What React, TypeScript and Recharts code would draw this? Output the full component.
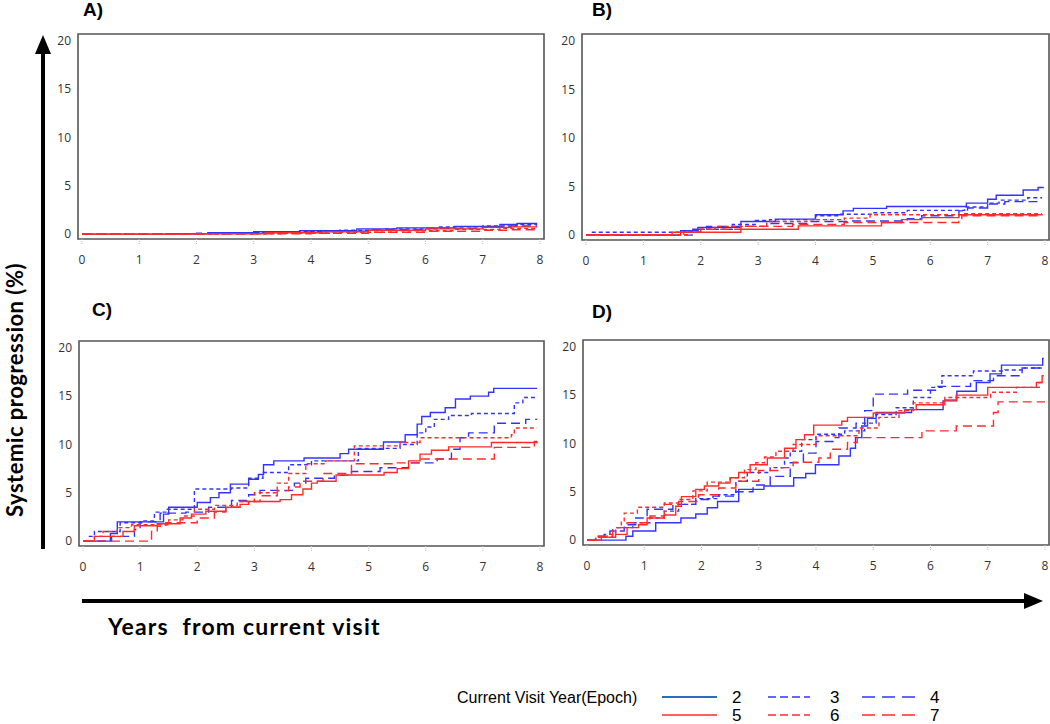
import { LineChart, Line, XAxis, YAxis, ReferenceArea } from 'recharts';

type Pt = [number, number];

const EPOCHS = ['2', '3', '4', '5', '6', '7'];
const X_TICKS = [0, 1, 2, 3, 4, 5, 6, 7, 8];
const Y_TICKS = [0, 5, 10, 15, 20];
const PANEL_LABELS = ['A)', 'B)', 'C)', 'D)'];

// panel A
const A2: Pt[] = [[0, 0], [1.5, 0.05], [2.2, 0.15], [3.0, 0.25], [3.8, 0.35], [4.8, 0.55], [5.5, 0.65], [6.5, 0.8], [7.3, 1.0], [7.6, 1.1], [7.95, 1.1]];
const A3: Pt[] = [[0, 0], [1.3, 0.05], [2.5, 0.15], [3.5, 0.25], [4.5, 0.4], [5.3, 0.55], [6.2, 0.75], [7.0, 0.85], [7.6, 1.0], [7.95, 1.0]];
const A4: Pt[] = [[0, 0], [2.0, 0.1], [3.0, 0.2], [4.0, 0.3], [5.0, 0.45], [6.0, 0.6], [7.0, 0.75], [7.5, 0.85], [7.95, 0.85]];
const A5: Pt[] = [[0, 0], [2.0, 0.05], [3.2, 0.15], [4.2, 0.25], [5.0, 0.4], [6.0, 0.55], [7.0, 0.7], [7.5, 0.75], [7.95, 0.75]];
const A6: Pt[] = [[0, 0], [2.5, 0.05], [3.5, 0.1], [4.5, 0.2], [5.5, 0.35], [6.5, 0.5], [7.3, 0.6], [7.95, 0.6]];
const A7: Pt[] = [[0, 0], [3.0, 0.05], [4.0, 0.1], [5.0, 0.2], [6.0, 0.3], [7.0, 0.4], [7.5, 0.45], [7.95, 0.45]];

// panel B
const B2: Pt[] = [[0, 0], [1.65, 0.45], [1.95, 0.8], [2.7, 1.4], [3.3, 1.65], [4.0, 2.1], [4.48, 2.5], [4.66, 2.75], [5.24, 2.95], [6.63, 3.3], [7.0, 3.7], [7.15, 4.1], [7.62, 4.65], [7.88, 4.9], [7.98, 4.9]];
const B3: Pt[] = [[0.1, 0.3], [1.7, 0.35], [1.95, 0.6], [2.55, 1.1], [2.95, 1.5], [3.2, 1.6], [4.0, 2.0], [4.4, 2.15], [5.0, 2.3], [5.6, 2.55], [6.6, 2.9], [7.0, 3.3], [7.2, 3.6], [7.7, 3.85], [7.95, 3.85]];
const B4: Pt[] = [[0, 0], [1.85, 0.6], [2.1, 0.9], [3.2, 1.2], [3.9, 1.4], [4.55, 1.45], [5.6, 1.7], [5.85, 2.0], [6.5, 2.5], [6.65, 2.8], [7.0, 3.2], [7.3, 3.45], [7.95, 3.5]];
const B5: Pt[] = [[0, 0.05], [1.5, 0.3], [2.7, 0.6], [3.7, 0.95], [5.15, 1.3], [5.5, 1.6], [5.85, 1.8], [6.5, 2.1], [7.95, 2.15]];
const B6: Pt[] = [[0, 0.05], [1.8, 0.3], [1.95, 0.6], [2.25, 0.9], [3.15, 1.4], [3.85, 1.6], [4.5, 1.75], [4.95, 2.1], [6.6, 2.2], [7.95, 2.2]];
const B7: Pt[] = [[0, 0], [1.7, 0.3], [2.0, 0.6], [2.7, 0.9], [3.6, 1.1], [4.5, 1.3], [6.5, 1.4], [6.55, 2.0], [7.95, 2.05]];

// panel C
const C2: Pt[] = [[0, 0], [0.48, 0.8], [0.6, 2.0], [1.41, 2.8], [1.5, 3.5], [2.0, 4.0], [2.23, 4.5], [2.38, 5.0], [2.58, 5.9], [2.9, 6.4], [3.07, 6.9], [3.16, 7.9], [3.34, 8.3], [3.87, 8.6], [4.5, 9.05], [4.65, 9.5], [5.26, 10.25], [5.64, 11.0], [5.85, 12.1], [5.93, 12.9], [6.08, 13.3], [6.34, 13.8], [6.52, 14.7], [6.78, 15.0], [7.1, 15.4], [7.19, 15.8], [7.95, 15.8]];
const C3: Pt[] = [[0.1, 0.5], [0.2, 1.0], [0.55, 1.0], [0.65, 1.9], [1.05, 2.1], [1.25, 3.0], [1.45, 3.3], [1.95, 5.4], [2.6, 5.5], [2.9, 6.5], [3.15, 7.1], [3.6, 7.9], [4.0, 8.3], [4.75, 8.3], [4.82, 9.6], [5.55, 10.0], [5.85, 11.2], [6.0, 11.8], [6.15, 12.6], [6.4, 13.0], [6.8, 13.2], [7.5, 13.2], [7.55, 14.3], [7.7, 14.85], [7.95, 14.85]];
const C4: Pt[] = [[0, 0], [0.5, 0.5], [0.9, 1.2], [1.0, 2.0], [1.35, 2.9], [1.8, 3.0], [2.2, 3.5], [2.6, 4.2], [2.9, 4.8], [3.1, 5.25], [3.5, 5.25], [3.7, 6.0], [3.9, 6.5], [4.4, 6.8], [4.7, 7.2], [5.2, 7.6], [5.7, 8.1], [6.2, 8.5], [6.45, 9.5], [6.6, 10.7], [6.75, 11.2], [7.2, 12.2], [7.75, 12.6], [7.95, 12.6]];
const C5: Pt[] = [[0, 0], [0.2, 0.5], [0.7, 1.0], [0.9, 1.6], [1.3, 1.8], [1.7, 2.4], [1.9, 2.8], [2.15, 3.1], [2.5, 3.5], [2.75, 3.8], [2.9, 4.1], [3.45, 4.3], [3.65, 4.8], [3.85, 5.4], [4.0, 6.0], [4.1, 6.2], [4.43, 6.85], [5.27, 7.1], [5.5, 7.5], [5.7, 8.3], [5.9, 9.0], [6.1, 9.4], [6.4, 9.75], [7.15, 10.2], [7.95, 10.3]];
const C6: Pt[] = [[0, 0], [0.2, 0.5], [0.35, 1.0], [0.6, 1.4], [0.85, 1.7], [1.5, 2.2], [1.75, 2.6], [1.95, 3.3], [2.3, 3.7], [2.7, 4.1], [3.0, 5.0], [3.4, 6.0], [3.6, 7.0], [3.9, 8.0], [4.25, 8.3], [4.75, 9.85], [5.55, 10.2], [5.9, 10.7], [7.5, 11.0], [7.55, 11.7], [7.95, 11.7]];
const C7: Pt[] = [[0, 0], [1.2, 1.0], [1.3, 1.55], [1.45, 1.9], [2.0, 2.4], [2.3, 3.0], [2.5, 3.5], [2.75, 4.1], [3.1, 4.7], [3.4, 5.2], [3.6, 5.6], [3.8, 6.2], [4.2, 7.0], [4.7, 8.0], [5.5, 8.1], [5.9, 8.5], [7.2, 9.7], [7.9, 10.3], [7.95, 10.3]];

// panel D
const D2: Pt[] = [[0, 0], [0.68, 0.4], [0.8, 0.95], [1.2, 1.8], [1.64, 2.3], [1.9, 2.7], [2.1, 3.35], [2.28, 4.0], [2.65, 5.25], [3.09, 5.6], [3.61, 6.45], [3.82, 6.9], [3.99, 7.8], [4.4, 8.7], [4.6, 9.5], [4.69, 10.6], [4.8, 11.8], [4.9, 12.6], [5.05, 13.2], [5.67, 13.5], [6.22, 14.4], [6.46, 15.4], [6.8, 16.3], [7.04, 17.2], [7.24, 18.1], [7.96, 18.8], [7.98, 18.8]];
const D3: Pt[] = [[0, 0], [0.15, 0.3], [0.3, 0.6], [0.5, 1.3], [0.8, 1.8], [1.1, 2.3], [1.35, 3.0], [1.6, 3.7], [1.9, 4.3], [2.3, 4.7], [2.6, 6.1], [2.8, 7.0], [3.2, 7.5], [3.45, 8.5], [3.55, 9.2], [3.75, 10.4], [4.0, 10.95], [4.5, 11.3], [4.85, 12.1], [5.05, 13.0], [5.4, 13.7], [5.7, 14.75], [6.0, 15.8], [6.2, 17.0], [6.75, 17.5], [7.3, 17.6], [7.6, 17.8], [7.98, 17.9]];
const D4: Pt[] = [[0, 0], [0.2, 0.4], [0.4, 0.95], [0.65, 1.6], [0.85, 2.3], [1.05, 3.2], [1.5, 3.7], [1.9, 4.2], [2.2, 4.55], [2.6, 5.0], [2.9, 5.7], [3.2, 6.6], [3.55, 8.0], [3.78, 9.0], [4.0, 10.2], [4.3, 10.6], [4.4, 11.6], [4.7, 12.1], [4.85, 13.4], [5.0, 15.1], [5.6, 15.5], [6.1, 15.9], [6.7, 16.5], [7.1, 17.0], [7.6, 17.8], [7.98, 17.8]];
const D5: Pt[] = [[0, 0], [0.25, 0.3], [0.5, 0.6], [0.7, 1.3], [0.9, 1.6], [1.05, 2.3], [1.35, 2.6], [1.55, 3.5], [1.65, 4.5], [1.9, 5.25], [2.05, 5.6], [2.3, 5.9], [2.5, 6.45], [2.65, 7.0], [2.85, 7.8], [3.15, 8.5], [3.45, 9.5], [3.65, 10.4], [3.8, 10.9], [3.96, 11.9], [4.45, 12.3], [4.55, 12.7], [5.0, 13.15], [5.55, 13.5], [5.75, 14.0], [6.25, 14.5], [6.45, 15.0], [7.0, 15.8], [7.85, 16.3], [7.95, 17.0], [7.98, 17.0]];
const D6: Pt[] = [[0, 0], [0.15, 0.3], [0.35, 0.6], [0.5, 1.3], [0.6, 2.0], [0.65, 2.8], [0.88, 3.4], [1.35, 3.85], [1.6, 4.2], [1.85, 5.1], [2.1, 6.0], [2.5, 6.45], [2.75, 7.3], [2.95, 8.0], [3.1, 8.6], [3.3, 9.2], [3.6, 9.9], [4.0, 10.8], [4.65, 10.8], [4.75, 11.6], [5.1, 12.7], [5.45, 13.4], [5.7, 14.2], [6.25, 14.75], [7.05, 15.3], [7.5, 15.8], [7.9, 16.3], [7.98, 16.3]];
const D7: Pt[] = [[0, 0], [0.2, 0.4], [0.45, 1.3], [0.7, 1.8], [1.1, 2.5], [1.35, 3.7], [1.6, 4.0], [1.95, 4.7], [2.3, 5.4], [2.6, 6.1], [3.0, 7.2], [3.4, 7.5], [3.6, 8.05], [4.05, 8.5], [4.25, 9.4], [4.55, 10.1], [4.72, 10.6], [5.85, 11.3], [6.45, 11.8], [7.1, 13.2], [7.18, 14.3], [8.0, 14.3]];

const BLUE = '#3333ff';
const RED = '#ff2b2b';
const STYLES = [
  { color: BLUE, dash: undefined as string | undefined },
  { color: BLUE, dash: '4 3' },
  { color: BLUE, dash: '9 5' },
  { color: RED, dash: undefined as string | undefined },
  { color: RED, dash: '4 3' },
  { color: RED, dash: '9 5' },
];

const PANELS = [
  { label: PANEL_LABELS[0], box: { x: 78, y: 34, w: 466, h: 205 }, lab: { x: 83, y: 0 }, series: [A2, A3, A4, A5, A6, A7] },
  { label: PANEL_LABELS[1], box: { x: 582, y: 34, w: 467, h: 206 }, lab: { x: 592, y: 0 }, series: [B2, B3, B4, B5, B6, B7] },
  { label: PANEL_LABELS[2], box: { x: 79, y: 341, w: 465, h: 205 }, lab: { x: 92, y: 300 }, series: [C2, C3, C4, C5, C6, C7] },
  { label: PANEL_LABELS[3], box: { x: 583, y: 340, w: 466, h: 205 }, lab: { x: 592, y: 302 }, series: [D2, D3, D4, D5, D6, D7] },
];

const X_DOM: [number, number] = [-0.07, 8.07];
const Y_DOM: [number, number] = [-0.5, 20.7];
const tickStyle = { fill: '#333', fontSize: 12, fontFamily: '"Open Sans", sans-serif' };

function Panel({ box, series }: { box: { x: number; y: number; w: number; h: number }; series: Pt[][] }) {
  const padL = 50, padT = 10, padR = 6;
  return (
    <div style={{ position: 'absolute', left: box.x - padL, top: box.y - padT }}>
      <LineChart
        width={box.w + padL + padR}
        height={box.h + padT + 40}
        margin={{ top: padT, right: padR, left: 0, bottom: 10 }}
      >
        <XAxis
          dataKey="t"
          type="number"
          domain={X_DOM}
          ticks={X_TICKS}
          allowDataOverflow
          axisLine={false}
          tickLine={{ stroke: '#bbb', strokeDasharray: '1 1' }}
          tickSize={5}
          tickMargin={11}
          height={30}
          tick={tickStyle}
        />
        <YAxis
          type="number"
          domain={Y_DOM}
          ticks={Y_TICKS}
          allowDataOverflow
          axisLine={false}
          tickLine={false}
          tickSize={5}
          tickMargin={2}
          width={50}
          tick={tickStyle}
        />
        <ReferenceArea x1={X_DOM[0]} x2={X_DOM[1]} y1={Y_DOM[0]} y2={Y_DOM[1]} fill="none" stroke="#555" strokeWidth={1.6} />
        {series.map((s, i) => (
          <Line
            key={EPOCHS[i]}
            name={EPOCHS[i]}
            data={s.map(([t, v]) => ({ t, v }))}
            dataKey="v"
            type="stepAfter"
            stroke={STYLES[i].color}
            strokeWidth={1.4}
            strokeDasharray={STYLES[i].dash}
            dot={false}
            isAnimationActive={false}
          />
        ))}
      </LineChart>
    </div>
  );
}

const LEG_X = [662, 768, 862];
const LEG_W = [55, 42, 55];
const LEG_NUM_X = [732, 830, 930];
const LEG_Y = [697, 715];

export default function App() {
  return (
    <div style={{ position: 'absolute', left: 0, top: 0, width: 1050, height: 724, background: '#fff', overflow: 'hidden' }}>
      {PANELS.map((p) => (
        <div key={p.label}>
          <Panel box={p.box} series={p.series} />
          <div
            style={{
              position: 'absolute', left: p.lab.x, top: p.lab.y, fontFamily: '"Liberation Sans", Arial, sans-serif',
              fontWeight: 'bold', fontSize: 19, lineHeight: '19px', color: '#000',
            }}
          >
            {p.label}
          </div>
        </div>
      ))}
      <svg width={1050} height={724} style={{ position: 'absolute', left: 0, top: 0, pointerEvents: 'none' }}>
        {/* axis arrows */}
        <line x1={43} y1={549} x2={43} y2={52} stroke="#000" strokeWidth={4} />
        <polygon points="43,35 35,54 51,54" fill="#000" />
        <line x1={82} y1={601} x2={1026} y2={601} stroke="#000" strokeWidth={4} />
        <polygon points="1043,601 1024,593 1024,609" fill="#000" />
        <text
          x={23}
          y={390}
          transform="rotate(-90 23 390)"
          textAnchor="middle"
          fontFamily="Lato, sans-serif"
          fontWeight="bold"
          fontSize={22}
          letterSpacing={0.5}
          fill="#000"
        >
          Systemic progression (%)
        </text>
        <text
          x={108}
          y={635}
          fontFamily="Lato, sans-serif"
          fontWeight="bold"
          fontSize={23}
          letterSpacing={1.2}
          fill="#000"
          style={{ whiteSpace: 'pre' }}
        >
          {'Years  from current visit'}
        </text>
        {/* legend */}
        <text x={457} y={703} fontFamily='"Liberation Sans", Arial, sans-serif' fontSize={16} fill="#000">
          Current Visit Year(Epoch)
        </text>
        {EPOCHS.map((e, i) => {
          const row = i < 3 ? 0 : 1;
          const col = i % 3;
          const y = LEG_Y[row];
          const st = STYLES[i];
          const color = i === 0 ? '#2a6ebb' : st.color;
          return (
            <g key={e}>
              <line
                x1={LEG_X[col]}
                x2={LEG_X[col] + LEG_W[col]}
                y1={y}
                y2={y}
                stroke={color}
                strokeWidth={i === 0 ? 2.2 : 1.6}
                strokeDasharray={col === 1 ? '8 4' : col === 2 ? '13 7' : undefined}
              />
              <text x={LEG_NUM_X[col]} y={y + 6} fontFamily='"Liberation Sans", Arial, sans-serif' fontSize={17} fill="#000">
                {e}
              </text>
            </g>
          );
        })}
      </svg>
    </div>
  );
}
